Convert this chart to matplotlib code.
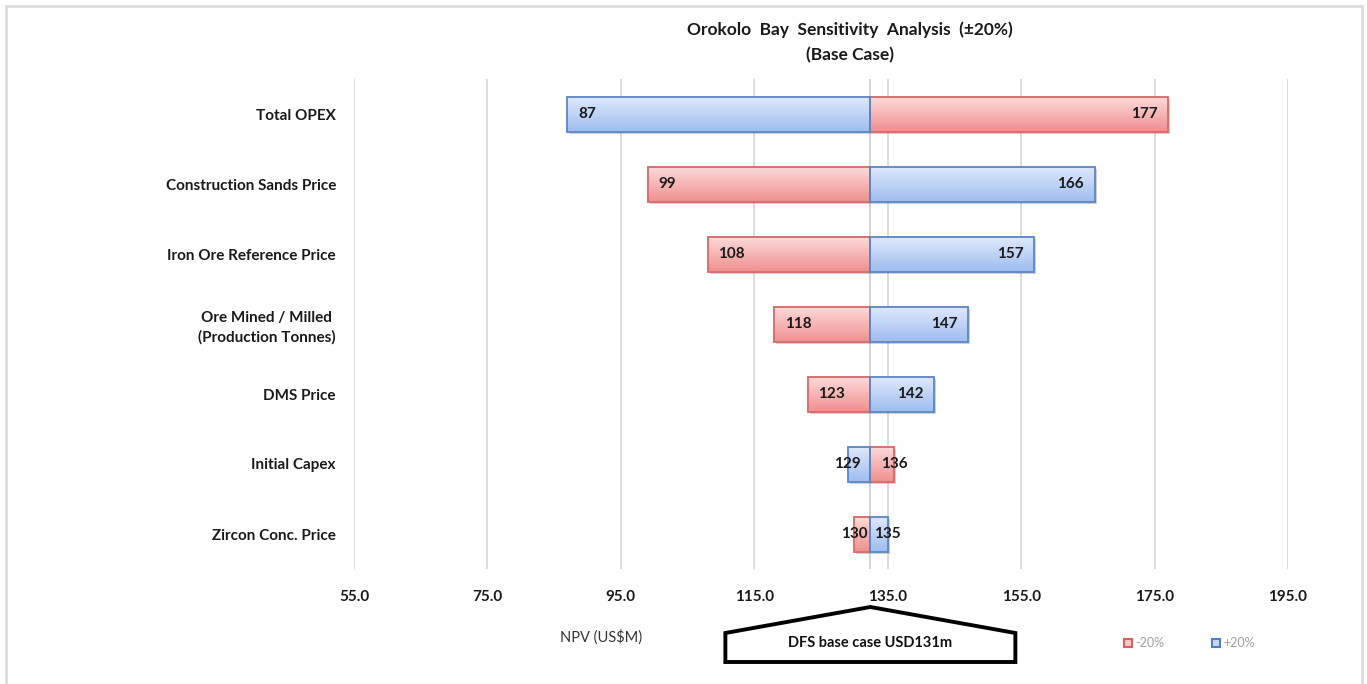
import numpy as np
import matplotlib
matplotlib.use("Agg")
import matplotlib.pyplot as plt
from matplotlib.patches import Polygon, Rectangle
from matplotlib.lines import Line2D
import matplotlib.transforms as mtransforms

# Sensitivity of NPV (US$M) to +/-20% changes in each driver
categories = [
    "Total OPEX",
    "Construction Sands Price",
    "Iron Ore Reference Price",
    "Ore Mined / Milled \n(Production Tonnes)",
    "DMS Price",
    "Initial Capex",
    "Zircon Conc. Price",
]
npv_minus20 = [177, 99, 108, 118, 123, 136, 130]
npv_plus20 = [87, 166, 157, 147, 142, 129, 135]
base_npv = 132.4
x_ticks = [55, 75, 95, 115, 135, 155, 175, 195]

FONT = ["Lato", "DejaVu Sans"]
plt.rcParams["font.family"] = FONT

W, H = 1367, 684
fig = plt.figure(figsize=(W / 100, H / 100), dpi=100)
fig.patch.set_facecolor("white")
ax = fig.add_axes([354 / W, 1 - 569 / H, (1288 - 354) / W, (569 - 79) / H])

n = len(categories)
ypos = np.arange(n)
bar_h = 0.5

red_grad = (np.array([253, 220, 220]) / 255, np.array([240, 145, 145]) / 255)
blue_grad = (np.array([224, 234, 252]) / 255, np.array([160, 190, 240]) / 255)
red_edge = "#d46a68"
blue_edge = "#5a86c8"

shadow_tr = mtransforms.offset_copy(ax.transData, fig=fig, x=2, y=-2, units="dots")


def gradient(colors, steps=64):
    t = np.linspace(0, 1, steps)[:, None]
    arr = colors[0][None, :] * (1 - t) + colors[1][None, :] * t
    return arr[:, None, :]


def draw_bar(y, value, grad, edge):
    left, right = sorted([base_npv, value])
    ax.add_patch(Rectangle((left, y - bar_h / 2), right - left, bar_h,
                           facecolor="black", alpha=0.18, edgecolor="none",
                           transform=shadow_tr, zorder=2))
    ax.imshow(gradient(grad), extent=(left, right, y + bar_h / 2, y - bar_h / 2),
              aspect="auto", interpolation="bilinear", zorder=3)
    ax.add_patch(Rectangle((left, y - bar_h / 2), right - left, bar_h,
                           facecolor="none", edgecolor=edge, lw=1.3, zorder=4))


def label_bar(y, value):
    width_px = abs(value - base_npv) * (1288 - 354) / (x_ticks[-1] - x_ticks[0])
    kw = dict(va="center", fontsize=11, fontweight="bold", color="#1a1a1a", zorder=6)
    if width_px < 40:
        ax.text(value, y, f"{value:.0f}", ha="center", **kw)
    elif value < base_npv:
        ax.annotate(f"{value:.0f}", (value, y), xytext=(7.5, 0),
                    textcoords="offset points", ha="left", **kw)
    else:
        ax.annotate(f"{value:.0f}", (value, y), xytext=(-7.5, 0),
                    textcoords="offset points", ha="right", **kw)


for y, lo, hi in zip(ypos, npv_minus20, npv_plus20):
    draw_bar(y, lo, red_grad, red_edge)
    draw_bar(y, hi, blue_grad, blue_edge)
for y, lo, hi in zip(ypos, npv_minus20, npv_plus20):
    label_bar(y, lo)
    label_bar(y, hi)

ax.set_xlim(x_ticks[0], x_ticks[-1])
ax.set_ylim(n - 0.5, -0.5)
ax.set_xticks(x_ticks)
ax.set_xticklabels([f"{t:.1f}" for t in x_ticks], fontsize=11, fontweight="bold",
                   color="#1a1a1a")
ax.set_yticks(ypos)
ax.set_yticklabels(categories, fontsize=11, fontweight="bold", color="#1a1a1a",
                   linespacing=1.45)
ax.tick_params(axis="both", length=0)
ax.tick_params(axis="y", pad=13)
ax.tick_params(axis="x", pad=15)
for sp in ax.spines.values():
    sp.set_visible(False)
ax.grid(axis="x", color="#d9d9d9", lw=1.3, zorder=0)
ax.set_axisbelow(True)
ax.axvline(base_npv, color="#d0d0d0", lw=1.3, zorder=1)

# Title
fig.text(850 / W, 1 - 30 / H, "Orokolo  Bay  Sensitivity  Analysis  (±20%)",
         ha="center", va="center", fontsize=12.5, fontweight="bold", color="#1a1a1a")
fig.text(850 / W, 1 - 55 / H, "(Base Case)",
         ha="center", va="center", fontsize=12.5, fontweight="bold", color="#1a1a1a")

# Axis caption
fig.text(601 / W, 1 - 637 / H, "NPV (US$M)", ha="center", va="center",
         fontsize=10.5, color="#333333")

# Base-case callout pointing at the base NPV
fig.canvas.draw()
apex_x = ax.transData.transform((base_npv, 0))[0]
half_w = 145
pts_px = [(apex_x, 607), (apex_x + half_w, 633), (apex_x + half_w, 662),
          (apex_x - half_w, 662), (apex_x - half_w, 633)]
pts = [(px / W, 1 - py / H) for px, py in pts_px]
fig.add_artist(Polygon(pts, closed=True, facecolor="white", edgecolor="black",
                       lw=2.8, transform=fig.transFigure, joinstyle="miter"))
fig.text(apex_x / W, 1 - 643 / H, "DFS base case USD131m", ha="center", va="center",
         fontsize=10.5, fontweight="bold", color="#111111")

# Legend
handles = [
    Line2D([], [], ls="none", marker="s", markersize=6, markerfacecolor="#f8c8c8",
           markeredgecolor="#d9605e", markeredgewidth=1.5, label="-20%"),
    Line2D([], [], ls="none", marker="s", markersize=6, markerfacecolor="#c8d8f4",
           markeredgecolor="#4f7fc8", markeredgewidth=1.5, label="+20%"),
]
fig.legend(handles=handles, loc="center", bbox_to_anchor=(1188 / W, 1 - 643 / H),
           ncol=2, frameon=False, fontsize=9, handletextpad=0.1, columnspacing=3.6,
           handlelength=1.0, labelcolor="#a0a0a0")

# Chart frame
fig.add_artist(Rectangle((6 / W, -0.05), (1362 - 6) / W, 1.05 - 6 / H, fill=False,
                         edgecolor="#dcdcdc", lw=2, transform=fig.transFigure))

fig.savefig("out.png", dpi=100)
